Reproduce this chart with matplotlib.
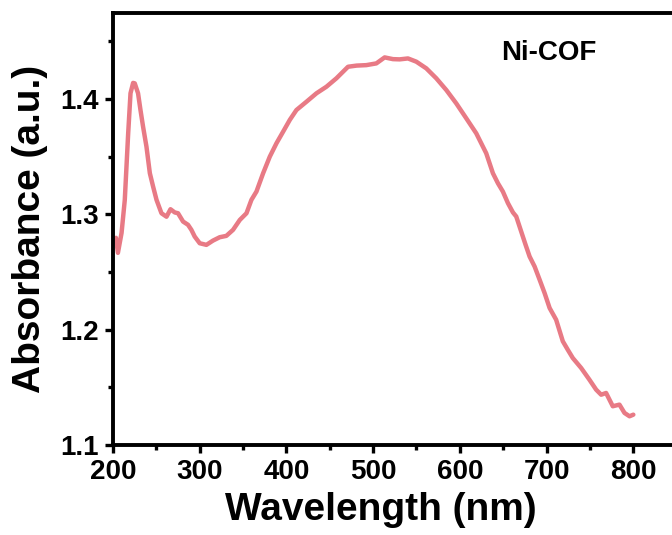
import matplotlib
matplotlib.use("Agg")
import matplotlib.pyplot as plt
from matplotlib.ticker import MultipleLocator

plt.rcParams['font.family'] = ['Liberation Sans', 'DejaVu Sans']
plt.rcParams['font.weight'] = 'bold'

wavelength = [203.5, 205.8, 210.0, 213.7, 217.6, 220.3, 223.3, 225.2, 229.0, 231.8,
              234.8, 238.7, 242.6, 246.4, 250.3, 256.0, 261.8, 266.4, 271.3, 275.1,
              280.9, 286.6, 290.5, 294.3, 300.1, 307.8, 315.4, 323.1, 330.8, 338.5,
              346.3, 354.0, 359.7, 365.5, 373.2, 380.9, 388.6, 396.3, 404.0, 411.6,
              423.2, 434.7, 446.2, 457.7, 471.1, 481.0, 492.1, 503.7, 513.3, 522.9,
              530.6, 540.2, 549.8, 561.3, 572.8, 584.4, 595.9, 607.4, 618.9, 630.4,
              638.1, 643.9, 649.6, 655.4, 661.2, 665.0, 670.7, 675.8, 680.4, 686.2,
              692.0, 697.7, 703.5, 711.0, 718.7, 724.4, 730.2, 739.8, 749.4, 757.1,
              762.9, 768.6, 776.3, 784.0, 789.8, 795.6, 800.0]
absorbance = [1.2797, 1.2667, 1.2840, 1.3125, 1.3700, 1.4050, 1.4140, 1.4136, 1.4050, 1.3905,
              1.3760, 1.3587, 1.3357, 1.3240, 1.3126, 1.3010, 1.2980, 1.3045, 1.3017, 1.3010,
              1.2938, 1.2910, 1.2866, 1.2808, 1.2750, 1.2736, 1.2773, 1.2802, 1.2814, 1.2866,
              1.2952, 1.3010, 1.3126, 1.3198, 1.3357, 1.3501, 1.3617, 1.3718, 1.3820, 1.3905,
              1.3977, 1.4050, 1.4107, 1.4180, 1.4280, 1.4290, 1.4294, 1.4309, 1.4361, 1.4346,
              1.4344, 1.4352, 1.4324, 1.4266, 1.4180, 1.4078, 1.3962, 1.3833, 1.3703, 1.3530,
              1.3357, 1.3270, 1.3198, 1.3098, 1.3017, 1.2982, 1.2852, 1.2736, 1.2635, 1.2548,
              1.2433, 1.2318, 1.2188, 1.2087, 1.1900, 1.1827, 1.1755, 1.1669, 1.1567, 1.1481,
              1.1437, 1.1452, 1.1337, 1.1351, 1.1279, 1.1250, 1.1264]

x_ticks = [200, 300, 400, 500, 600, 700, 800]
y_ticks = [1.1, 1.2, 1.3, 1.4]
label_text = "Ni-COF"

fig = plt.figure(figsize=(6.72, 5.35), dpi=100)
ax = fig.add_axes([0.168, 0.168, 0.839, 0.8075])
ax.plot(wavelength, absorbance, color='#E87A85', lw=3.2, solid_joinstyle='round',
        solid_capstyle='round')

ax.set_xlim(200, 850)
ax.set_ylim(1.1, 1.4745)
ax.set_xticks(x_ticks)
ax.set_yticks(y_ticks)
ax.xaxis.set_minor_locator(MultipleLocator(50))
ax.yaxis.set_minor_locator(MultipleLocator(0.05))
ax.set_yticklabels([f"{v:.1f}" for v in y_ticks])

for s in ax.spines.values():
    s.set_linewidth(2.8)
ax.tick_params(which='major', direction='out', length=6, width=2.4, labelsize=20, pad=4)
ax.tick_params(which='minor', direction='out', length=3.5, width=2.4)
ax.tick_params(top=False, right=False, which='both')

ax.set_xlabel("Wavelength (nm)", fontsize=28, fontweight='bold', labelpad=5)
ax.xaxis.label.set_x(0.475)
ax.set_ylabel("Absorbance (a.u.)", fontsize=28, fontweight='bold', labelpad=9)
ax.text(648, 1.44, label_text, fontsize=20, fontweight='bold', ha='left', va='center')

fig.savefig("out.png", dpi=100)
